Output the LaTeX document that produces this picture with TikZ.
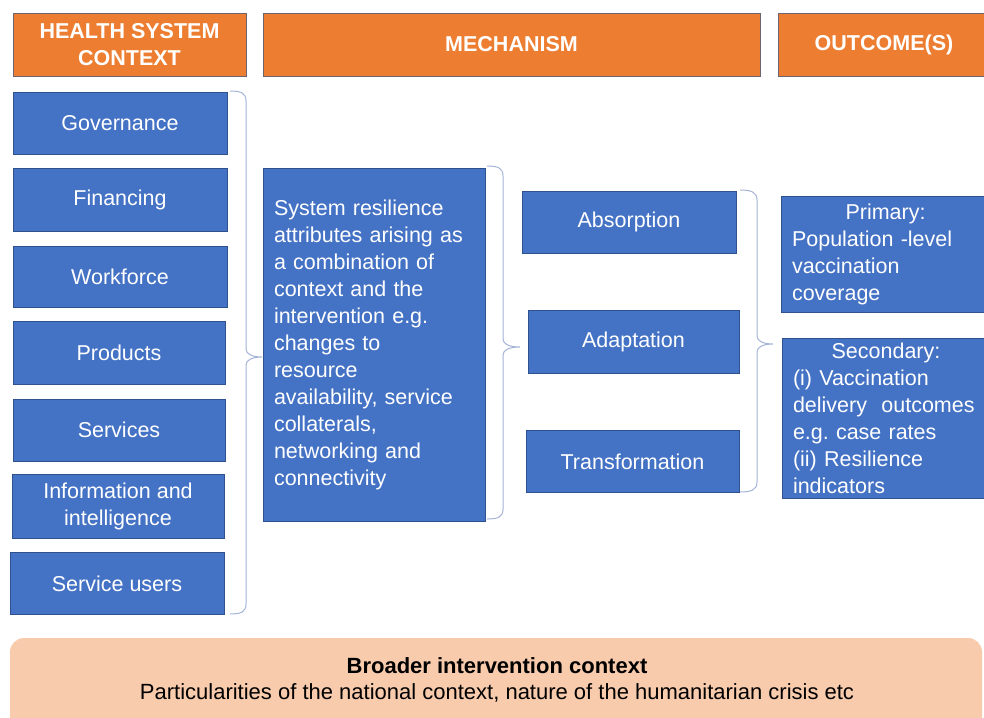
\documentclass[tikz,border=0pt]{standalone}
\usepackage{fontspec}
\setmainfont{Liberation Sans}
\definecolor{obox}{HTML}{ED7D31}
\definecolor{bbox}{HTML}{4472C4}
\definecolor{bline}{HTML}{2F528F}
\definecolor{hline}{HTML}{6E6470}
\definecolor{brc}{HTML}{A3B3D6}
\definecolor{peach}{HTML}{F8CBAD}
\begin{document}
\begin{tikzpicture}[x=1pt,y=-1pt,
  hdr/.style={draw=hline, line width=0.8pt, fill=obox, text=white,
    font=\fontsize{21.5}{27}\selectfont\bfseries, align=center, inner sep=0pt},
  blk/.style={draw=bline, line width=0.6pt, fill=bbox, text=white,
    font=\fontsize{21.5}{27}\selectfont, align=center, inner sep=0pt},
  txtblk/.style={blk, align=left, inner xsep=11pt},
  brace/.style={draw=brc, line width=1pt}]
\useasboundingbox (0,0) rectangle (984,717);
\clip (0,0) rectangle (984,717);
% headers
\node[hdr, minimum width=233, minimum height=63] (hdrctx) at (129.5,44.5) {HEALTH SYSTEM\\CONTEXT};
\node[hdr, minimum width=497, minimum height=63] (hdrmech) at (511.5,44.5) {MECHANISM};
\node[hdr, minimum width=212, minimum height=63] (hdrout) at (884,44.5) {OUTCOME(S)};
% left column
\node[blk, minimum width=214, minimum height=62] (gov) at (120,123) {Governance};
\node[blk, minimum width=214, minimum height=63] (fin) at (120,199.5) {Financing};
\node[blk, minimum width=214, minimum height=61] (work) at (120,276.5) {Workforce};
\node[blk, minimum width=212, minimum height=63] (prod) at (119,353) {Products};
\node[blk, minimum width=212, minimum height=62] (serv) at (119,430) {Services};
\node[blk, minimum width=212, minimum height=64] (info) at (118,506) {Information and\\intelligence};
\node[blk, minimum width=214, minimum height=62] (users) at (117,583.5) {Service users};
% mechanism
\node[txtblk, text width=200, minimum height=353] (mech) at (374,344.5)
  {System resilience\\attributes arising as\\a combination of\\context and the\\intervention e.g.\\changes to\\resource\\availability, service\\collaterals,\\networking and\\connectivity};
\node[blk, minimum width=214, minimum height=62] (abs) at (629,222) {Absorption};
\node[blk, minimum width=211, minimum height=63] (adap) at (633.5,341.5) {Adaptation};
\node[blk, minimum width=213, minimum height=62] (trans) at (632.5,461.5) {Transformation};
% outcomes
\node[txtblk, text width=187, minimum height=116] (prim) at (885.5,254)
  {\makebox[\hsize]{Primary:}\\Population -level\\vaccination\\coverage};
\node[txtblk, text width=186, minimum height=160] (sec) at (886,418)
  {\makebox[\hsize]{Secondary:}\\(i) Vaccination\\delivery\ \ outcomes\\e.g.\ case rates\\(ii) Resilience\\indicators};
% bottom
\fill[peach, rounded corners=14pt] (10,638) rectangle (982,730);
\node[align=center, font=\fontsize{22}{26}\selectfont] (broad) at (497,680)
  {\textbf{Broader intervention context}\\Particularities of the national context, nature of the humanitarian crisis etc};
% braces
\draw[brace] (230,91) .. controls (241,91) and (246,93) .. (246,101) -- (246,349)
  .. controls (246,354) and (252,357) .. (262,357)
  .. controls (252,357) and (246,360) .. (246,365) -- (246,604)
  .. controls (246,612) and (241,614) .. (230,614);
\draw[brace] (487,166) .. controls (498,166) and (503,168) .. (503,176) -- (503,339)
  .. controls (503,344) and (509,347) .. (520,347)
  .. controls (509,347) and (503,350) .. (503,355) -- (503,509)
  .. controls (503,517) and (498,519) .. (487,519);
\draw[brace] (740,190) .. controls (751,190) and (757,192) .. (757,200) -- (757,336)
  .. controls (757,341) and (763,344) .. (773,344)
  .. controls (763,344) and (757,347) .. (757,352) -- (757,482)
  .. controls (757,490) and (751,492) .. (740,492);
\end{tikzpicture}
\end{document}
